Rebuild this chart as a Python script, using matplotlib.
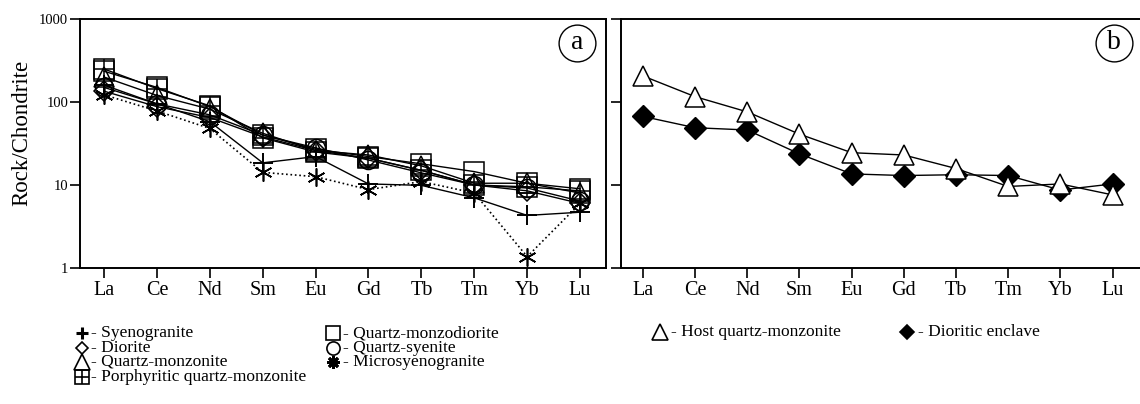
import numpy as np
import matplotlib
matplotlib.use('Agg')
import matplotlib.pyplot as plt
from matplotlib.lines import Line2D

plt.rcParams['font.family'] = ['Liberation Serif', 'DejaVu Serif']

# chondrite-normalised REE values
ree = ['La', 'Ce', 'Nd', 'Sm', 'Eu', 'Gd', 'Tb', 'Tm', 'Yb', 'Lu']

syenogranite = [160, 95, 58, 18.5, 22, 10.3, 9.9, 7.0, 4.3, 4.7]
diorite = [135, 88, 65, 38, 26, 21, 15, 10, 8.5, 6.0]
qz_monzonite = [200, 120, 82, 42, 26, 23, 17, 10.5, 10.5, 8.0]
porph_qz_monzonite = [250, 145, 90, 37, 25, 21, 15, 10, 9.5, 8.5]
qz_monzodiorite = [235, 150, 88, 40, 27, 22, 18, 14.5, 10.5, 9.0]
qz_syenite = [150, 95, 70, 40, 28, 20, 14, 10, 9.2, 6.4]
microsyenogranite = [122, 78, 48, 14.2, 12.6, 8.8, 11, 8.0, 1.37, 6.0]

host_qm = [206, 116, 76, 41, 24.5, 23, 15.8, 9.6, 10.3, 7.6]
enclave = [67, 49, 46, 23.7, 13.6, 13, 13.3, 13, 8.7, 10.3]

W, H = 1140, 404
fig = plt.figure(figsize=(W / 100, H / 100), dpi=100)

def fx(px):
    return px / W

def fy(py):
    return 1 - py / H

axa = fig.add_axes([fx(80), fy(268), fx(526), 249 / H])
axb = fig.add_axes([fx(621), fy(268), fx(526), 249 / H])

x = np.arange(len(ree))
k = 'black'
lw = 1.0

# panel a
axa.plot(x, syenogranite, '-', color=k, lw=lw, marker='+', ms=14, mew=1.4)
axa.plot(x, diorite, '-', color=k, lw=lw, marker='D', ms=10, mfc='none', mec=k, mew=1.1)
axa.plot(x, qz_monzonite, '-', color=k, lw=lw, marker='^', ms=15, mfc='none', mec=k, mew=1.1)
axa.plot(x, porph_qz_monzonite, '-', color=k, lw=lw, marker='s', ms=14, mfc='none', mec=k, mew=1.1)
axa.plot(x, porph_qz_monzonite, 'none', marker='+', ms=14, mec=k, mew=1.1)
axa.plot(x, qz_monzodiorite, '-', color=k, lw=lw, marker='s', ms=14, mfc='none', mec=k, mew=1.1)
axa.plot(x, qz_syenite, '-', color=k, lw=lw, marker='o', ms=13, mfc='none', mec=k, mew=1.1)
axa.plot(x, microsyenogranite, ':', color=k, lw=1.2, marker=(6, 2, 0), ms=13, mec=k, mew=1.2)

# panel b
axb.plot(x, host_qm, '-', color=k, lw=lw, marker='^', ms=15, mfc='white', mec=k, mew=1.1, zorder=3)
axb.plot(x, enclave, '-', color=k, lw=lw, marker='D', ms=11, mfc=k, mec=k, zorder=2)

for ax, xl in ((axa, (-0.454, 9.49)), (axb, (-0.42, 9.66))):
    ax.set_yscale('log')
    ax.set_ylim(1, 1000)
    ax.set_xlim(*xl)
    ax.set_xticks(x)
    ax.set_xticklabels(ree, fontsize=14.5)
    ax.set_yticks([1, 10, 100, 1000])
    ax.minorticks_off()
    ax.tick_params(axis='both', direction='out', length=7.5, width=1.2, color=k)
    ax.tick_params(axis='x', pad=2)
    for s in ax.spines.values():
        s.set_linewidth(1.4)

axa.set_yticklabels(['1', '10', '100', '1000'], fontsize=10.5)
axa.tick_params(axis='y', pad=1)
axb.set_yticklabels([])

fig.text(fx(22), fy(133), 'Rock/Chondrite', rotation=90, ha='center', va='center', fontsize=16.5)

# circled panel letters
for ax, cx, lab in ((axa, 0.945, 'a'), (axb, 0.937, 'b')):
    ax.plot([cx], [0.904], 'o', ms=26.5, mfc='none', mec=k, mew=1.0,
            transform=ax.transAxes, clip_on=False)
    ax.text(cx, 0.904, lab, transform=ax.transAxes, ha='center', va='center', fontsize=20)

# legends below the panels
def key(px, py, text, marker, ms, gap, mfc='none', mew=1.2, extra=None):
    fig.add_artist(Line2D([fx(px)], [fy(py)], transform=fig.transFigure, ls='none',
                          marker=marker, ms=ms, mfc=mfc, mec=k, mew=mew))
    if extra:
        fig.add_artist(Line2D([fx(px)], [fy(py)], transform=fig.transFigure, ls='none',
                              marker=extra, ms=ms, mec=k, mew=mew))
    fig.text(fx(px + gap), fy(py), text, ha='left', va='center', fontsize=12.5)

key(82, 333, '- Syenogranite', '+', 8, 9, mew=2.2)
key(82, 348, '- Diorite', 'D', 6.5, 9)
key(82, 362, '- Quartz-monzonite', '^', 11, 9)
key(82, 377, '- Porphyritic quartz-monzonite', 's', 10, 9, extra='+')
key(333, 333, '- Quartz-monzodiorite', 's', 10.5, 10)
key(333, 348, '- Quartz-syenite', 'o', 9.5, 10)
key(333, 362, '- Microsyenogranite', (8, 2, 0), 9, 10, mew=2.0)
key(660, 332, '- Host quartz-monzonite', '^', 11.5, 11)
key(907, 332, '- Dioritic enclave', 'D', 7, 11, mfc=k)

fig.savefig('out.png', dpi=100)
